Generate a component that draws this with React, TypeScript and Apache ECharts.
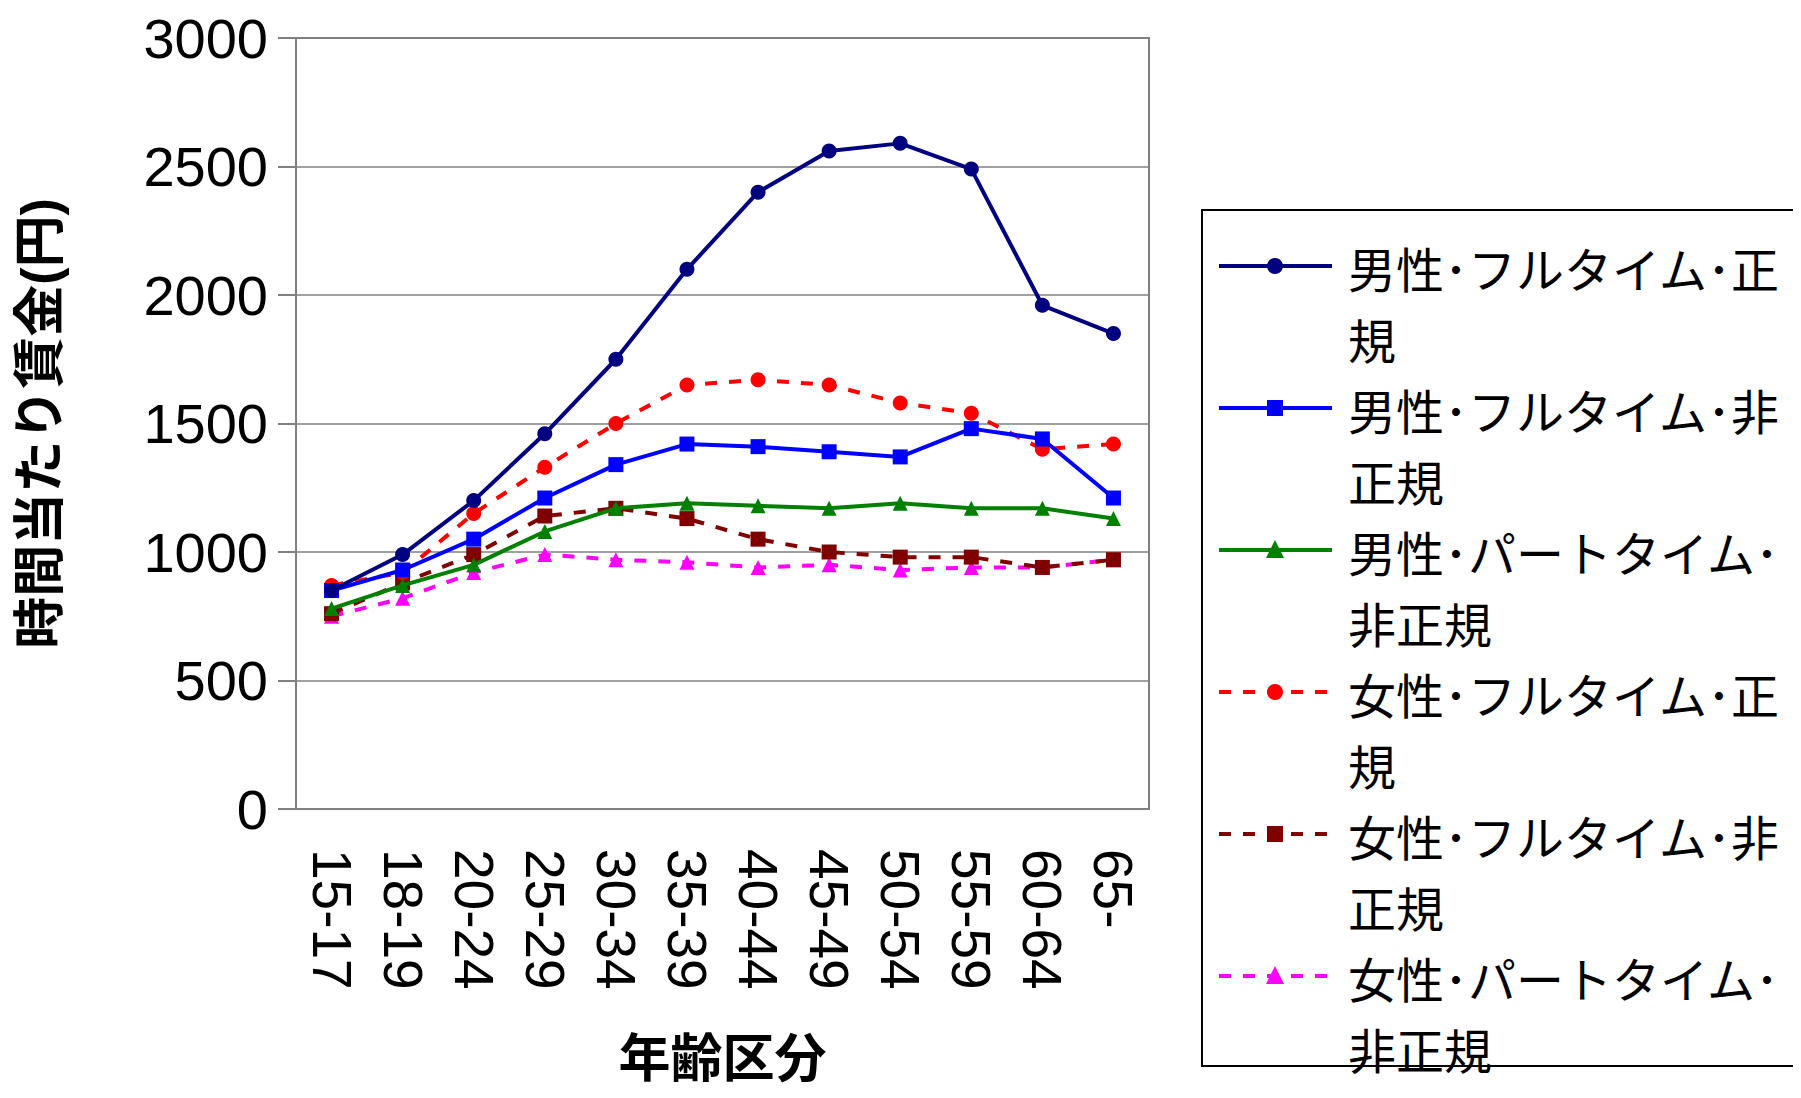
import { useEffect, useRef } from 'react';
import * as echarts from 'echarts';

const categories = ['15-17', '18-19', '20-24', '25-29', '30-34', '35-39', '40-44', '45-49', '50-54', '55-59', '60-64', '65-'];
const seriesNames = ['男性･フルタイム･正\n規', '男性･フルタイム･非\n正規', '男性･パートタイム･\n非正規', '女性･フルタイム･正\n規', '女性･フルタイム･非\n正規', '女性･パートタイム･\n非正規'];
const maleFullRegular = [850, 990, 1200, 1460, 1750, 2100, 2400, 2560, 2590, 2490, 1960, 1850];
const maleFullNonRegular = [850, 930, 1050, 1210, 1340, 1420, 1410, 1390, 1370, 1480, 1440, 1210];
const malePartNonRegular = [780, 870, 950, 1080, 1170, 1190, 1180, 1170, 1190, 1170, 1170, 1130];
const femaleFullRegular = [870, 920, 1150, 1330, 1500, 1650, 1670, 1650, 1580, 1540, 1400, 1420];
const femaleFullNonRegular = [760, 880, 990, 1140, 1170, 1130, 1050, 1000, 980, 980, 940, 970];
const femalePartNonRegular = [750, 820, 920, 990, 970, 960, 940, 950, 930, 940, 940, 970];

const values = [maleFullRegular, maleFullNonRegular, malePartNonRegular, femaleFullRegular, femaleFullNonRegular, femalePartNonRegular];
const colors = ['#000080', '#0000ff', '#008000', '#ff0000', '#800000', '#ff00ff'];
const symbols = ['circle', 'rect', 'triangle', 'circle', 'rect', 'triangle'];
const dashed = [false, false, false, true, true, true];

const FONT = '"Liberation Sans", Arial, "Noto Sans CJK JP", sans-serif';

export default function App() {
  const ref = useRef<HTMLDivElement>(null);

  useEffect(() => {
    if (!ref.current) return;
    const chart = echarts.init(ref.current, null, { renderer: 'svg' });

    const legend: any[] = [
      { type: 'rect', shape: { x: 1194, y: 202, width: 640, height: 856 }, style: { fill: '#fff', stroke: '#000', lineWidth: 2 } },
    ];
    seriesNames.forEach((name, i) => {
      const y = 258 + i * 142;
      legend.push({
        type: 'line',
        shape: { x1: 1211, y1: y, x2: 1324, y2: y },
        style: { stroke: colors[i], lineWidth: 4, lineDash: dashed[i] ? [12, 12] : null },
      });
      const s = symbols[i];
      if (s === 'circle') legend.push({ type: 'circle', shape: { cx: 1267, cy: y, r: 8 }, style: { fill: colors[i] } });
      else if (s === 'rect') legend.push({ type: 'rect', shape: { x: 1259, y: y - 8, width: 16, height: 16 }, style: { fill: colors[i] } });
      else legend.push({ type: 'polygon', shape: { points: [[1267, y - 10], [1258, y + 8], [1276, y + 8]] }, style: { fill: colors[i] } });
      legend.push({
        type: 'text', x: 1340, y: y - 30,
        style: { text: name, font: `48px ${FONT}`, fill: '#000', lineHeight: 71 },
      });
    });

    chart.setOption({
      animation: false,
      grid: { left: 288, right: 644, top: 30, bottom: 281, show: true, borderColor: '#808080', borderWidth: 2, outerBoundsMode: 'none', containLabel: false },
      xAxis: {
        type: 'category',
        data: categories,
        boundaryGap: true,
        axisLine: { lineStyle: { color: '#808080', width: 2 } },
        axisTick: { length: 18, lineStyle: { color: '#808080', width: 2 } },
        axisLabel: { interval: 0, rotate: -90, fontSize: 55, color: '#000', fontFamily: FONT, margin: 40, align: 'left', verticalAlign: 'middle' },
        name: '年齢区分',
        nameLocation: 'middle',
        nameGap: 224,
        nameTextStyle: { fontSize: 52, fontWeight: 'bold', color: '#000', fontFamily: FONT },
      },
      yAxis: {
        type: 'value',
        min: 0, max: 3000, interval: 500,
        axisLine: { show: true, lineStyle: { color: '#808080', width: 2 } },
        axisTick: { show: true, length: 18, lineStyle: { color: '#808080', width: 2 } },
        splitLine: { lineStyle: { color: '#808080', width: 1.5 } },
        axisLabel: { fontSize: 56, color: '#000', fontFamily: FONT, margin: 28, formatter: (v: number) => String(v) },
        name: '時間当たり賃金(円)',
        nameLocation: 'middle',
        nameGap: 230,
        nameRotate: 90,
        nameTextStyle: { fontSize: 52, fontWeight: 'bold', color: '#000', fontFamily: FONT },
      },
      graphic: legend,
      series: values.map((v, i) => ({
        type: 'line',
        data: v,
        symbol: symbols[i],
        symbolSize: 15,
        itemStyle: { color: colors[i] },
        lineStyle: { color: colors[i], width: 4, type: dashed[i] ? [12, 12] : 'solid' },
        z: 10 - i,
      })),
    });

    return () => chart.dispose();
  }, []);

  return <div ref={ref} style={{ width: 1785, height: 1082 }} />;
}
